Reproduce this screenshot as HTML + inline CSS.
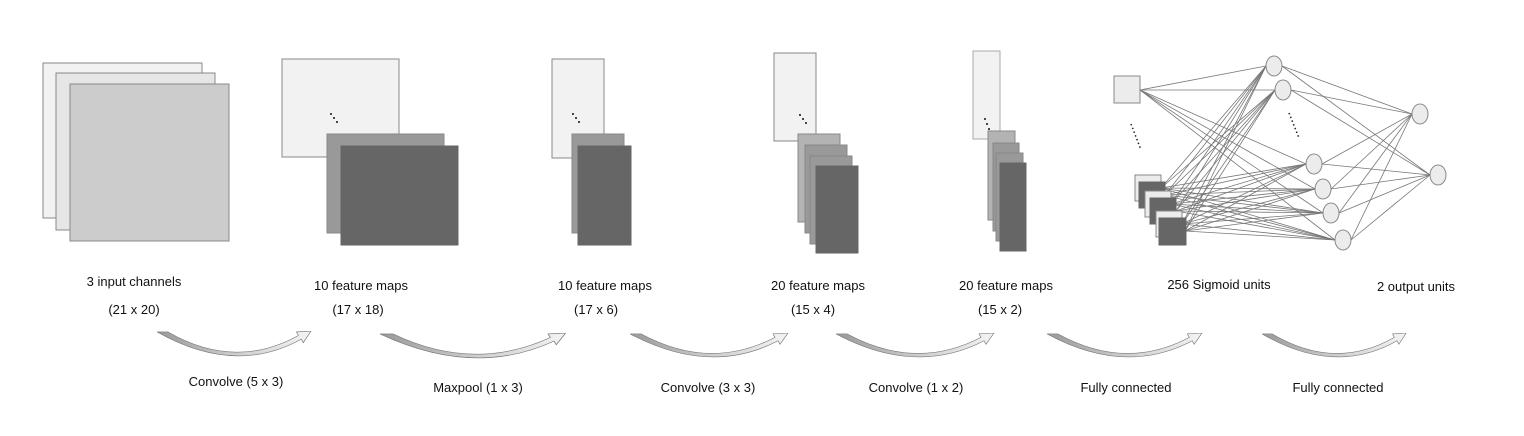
<!DOCTYPE html>
<html><head><meta charset="utf-8"><style>
html,body{margin:0;padding:0;background:#fff;}
svg{display:block;}
text{font-family:"Liberation Sans",Arial,sans-serif;font-size:13px;fill:#111;text-anchor:middle;}
</style></head><body>
<svg width="1524" height="436" viewBox="0 0 1524 436" xmlns="http://www.w3.org/2000/svg">
<defs>
<linearGradient id="ag" x1="0" y1="0" x2="1" y2="0">
<stop offset="0" stop-color="#999"/><stop offset="0.5" stop-color="#ccc"/><stop offset="1" stop-color="#f4f4f4"/>
</linearGradient>
<symbol id="arr" viewBox="0 0 160 30" preserveAspectRatio="none">
<path d="M0,1 L11,1 Q80,44 145,5 L143,1 L158,0 L150,13 L148,9 Q80,50 0,1 Z" fill="url(#ag)" stroke="#777" stroke-width="0.7"/>
</symbol>
</defs>
<g stroke="#888" stroke-width="1">
<rect x="43" y="63" width="159" height="155" fill="#f2f2f2"/>
<rect x="56" y="73" width="159" height="157" fill="#e6e6e6"/>
<rect x="70" y="84" width="159" height="157" fill="#cccccc"/>
<rect x="282" y="59" width="117" height="98" fill="#f2f2f2"/>
<rect x="327" y="134" width="117" height="99" fill="#999"/>
<rect x="341" y="146" width="117" height="99" fill="#666" stroke="#666"/>
<rect x="552" y="59" width="52" height="99" fill="#f2f2f2"/>
<rect x="572" y="134" width="52" height="99" fill="#999"/>
<rect x="578" y="146" width="53" height="99" fill="#666" stroke="#666"/>
<rect x="774" y="53" width="42" height="88" fill="#f2f2f2"/>
<rect x="798" y="134" width="42" height="88" fill="#b3b3b3"/>
<rect x="805" y="145" width="42" height="88" fill="#999"/>
<rect x="810" y="156" width="42" height="88" fill="#999"/>
<rect x="816" y="166" width="42" height="87" fill="#666" stroke="#666"/>
<rect x="973" y="51" width="27" height="88" fill="#f2f2f2" stroke="#aaa"/>
<rect x="988" y="131" width="27" height="89" fill="#b3b3b3"/>
<rect x="993" y="143" width="26" height="88" fill="#999"/>
<rect x="996" y="153" width="27" height="88" fill="#999"/>
<rect x="1000" y="163" width="26" height="88" fill="#666" stroke="#666"/>
</g>
<g fill="#111">
<circle cx="331" cy="114" r="1"/><circle cx="334" cy="118" r="1"/><circle cx="337" cy="122" r="1"/>
<circle cx="573" cy="114" r="1"/><circle cx="576" cy="118" r="1"/><circle cx="579" cy="122" r="1"/>
<circle cx="800" cy="115" r="1"/><circle cx="803" cy="119" r="1"/><circle cx="806" cy="123" r="1"/>
<circle cx="985" cy="119" r="1"/><circle cx="987" cy="124" r="1"/><circle cx="989" cy="129" r="1"/>
</g>
<g stroke="#222" stroke-width="1.5" stroke-dasharray="1.5,2.5">
<line x1="1131" y1="124" x2="1141" y2="150"/>
<line x1="1289" y1="113" x2="1299" y2="138"/>
</g>
<g stroke="#777" stroke-width="0.8">
<line x1="1140" y1="90" x2="1266" y2="66"/><line x1="1140" y1="90" x2="1275" y2="90"/><line x1="1140" y1="90" x2="1306" y2="164"/><line x1="1140" y1="90" x2="1315" y2="189"/><line x1="1140" y1="90" x2="1323" y2="213"/><line x1="1140" y1="90" x2="1335" y2="240"/>
<line x1="1161" y1="188" x2="1266" y2="66"/><line x1="1161" y1="188" x2="1275" y2="90"/><line x1="1161" y1="188" x2="1306" y2="164"/><line x1="1161" y1="188" x2="1315" y2="189"/><line x1="1161" y1="188" x2="1323" y2="213"/><line x1="1161" y1="188" x2="1335" y2="240"/>
<line x1="1165" y1="195" x2="1266" y2="66"/><line x1="1165" y1="195" x2="1275" y2="90"/><line x1="1165" y1="195" x2="1306" y2="164"/><line x1="1165" y1="195" x2="1315" y2="189"/><line x1="1165" y1="195" x2="1323" y2="213"/><line x1="1165" y1="195" x2="1335" y2="240"/>
<line x1="1171" y1="204" x2="1266" y2="66"/><line x1="1171" y1="204" x2="1275" y2="90"/><line x1="1171" y1="204" x2="1306" y2="164"/><line x1="1171" y1="204" x2="1315" y2="189"/><line x1="1171" y1="204" x2="1323" y2="213"/><line x1="1171" y1="204" x2="1335" y2="240"/>
<line x1="1176" y1="211" x2="1266" y2="66"/><line x1="1176" y1="211" x2="1275" y2="90"/><line x1="1176" y1="211" x2="1306" y2="164"/><line x1="1176" y1="211" x2="1315" y2="189"/><line x1="1176" y1="211" x2="1323" y2="213"/><line x1="1176" y1="211" x2="1335" y2="240"/>
<line x1="1182" y1="224" x2="1266" y2="66"/><line x1="1182" y1="224" x2="1275" y2="90"/><line x1="1182" y1="224" x2="1306" y2="164"/><line x1="1182" y1="224" x2="1315" y2="189"/><line x1="1182" y1="224" x2="1323" y2="213"/><line x1="1182" y1="224" x2="1335" y2="240"/>
<line x1="1185" y1="231" x2="1266" y2="66"/><line x1="1185" y1="231" x2="1275" y2="90"/><line x1="1185" y1="231" x2="1306" y2="164"/><line x1="1185" y1="231" x2="1315" y2="189"/><line x1="1185" y1="231" x2="1323" y2="213"/><line x1="1185" y1="231" x2="1335" y2="240"/>
<line x1="1282" y1="66" x2="1412" y2="114"/><line x1="1282" y1="66" x2="1430" y2="175"/>
<line x1="1291" y1="90" x2="1412" y2="114"/><line x1="1291" y1="90" x2="1430" y2="175"/>
<line x1="1322" y1="164" x2="1412" y2="114"/><line x1="1322" y1="164" x2="1430" y2="175"/>
<line x1="1331" y1="189" x2="1412" y2="114"/><line x1="1331" y1="189" x2="1430" y2="175"/>
<line x1="1339" y1="213" x2="1412" y2="114"/><line x1="1339" y1="213" x2="1430" y2="175"/>
<line x1="1351" y1="240" x2="1412" y2="114"/><line x1="1351" y1="240" x2="1430" y2="175"/>
</g>
<g stroke="#888" stroke-width="1">
<rect x="1114" y="76" width="26" height="27" fill="#ececec"/>
<rect x="1135" y="175" width="26" height="26" fill="#ececec"/>
<rect x="1139" y="182" width="26" height="26" fill="#666" stroke="#666"/>
<rect x="1145" y="191" width="26" height="26" fill="#ececec"/>
<rect x="1150" y="198" width="26" height="26" fill="#666" stroke="#666"/>
<rect x="1156" y="211" width="26" height="26" fill="#ececec"/>
<rect x="1159" y="218" width="27" height="27" fill="#666" stroke="#666"/>
<g fill="#ececec">
<ellipse cx="1274" cy="66" rx="8" ry="10"/><ellipse cx="1283" cy="90" rx="8" ry="10"/>
<ellipse cx="1314" cy="164" rx="8" ry="10"/><ellipse cx="1323" cy="189" rx="8" ry="10"/>
<ellipse cx="1331" cy="213" rx="8" ry="10"/><ellipse cx="1343" cy="240" rx="8" ry="10"/>
<ellipse cx="1420" cy="114" rx="8" ry="10"/><ellipse cx="1438" cy="175" rx="8" ry="10"/>
</g>
</g>
<text x="134" y="286">3 input channels</text><text x="134" y="314">(21 x 20)</text>
<text x="361" y="290">10 feature maps</text><text x="358" y="314">(17 x 18)</text>
<text x="605" y="290">10 feature maps</text><text x="596" y="314">(17 x 6)</text>
<text x="818" y="290">20 feature maps</text><text x="813" y="314">(15 x 4)</text>
<text x="1006" y="290">20 feature maps</text><text x="1000" y="314">(15 x 2)</text>
<text x="1219" y="289">256 Sigmoid units</text>
<text x="1416" y="291">2 output units</text>
<use href="#arr" x="157" y="331" width="156" height="27"/>
<use href="#arr" x="380" y="333" width="188" height="27"/>
<use href="#arr" x="630" y="333" width="160" height="26"/>
<use href="#arr" x="836" y="333" width="160" height="26"/>
<use href="#arr" x="1047" y="333" width="157" height="26"/>
<use href="#arr" x="1262" y="333" width="146" height="26"/>
<text x="236" y="386">Convolve (5 x 3)</text>
<text x="478" y="392">Maxpool (1 x 3)</text>
<text x="708" y="392">Convolve (3 x 3)</text>
<text x="916" y="392">Convolve (1 x 2)</text>
<text x="1126" y="392">Fully connected</text>
<text x="1338" y="392">Fully connected</text>
</svg>
</body></html>
